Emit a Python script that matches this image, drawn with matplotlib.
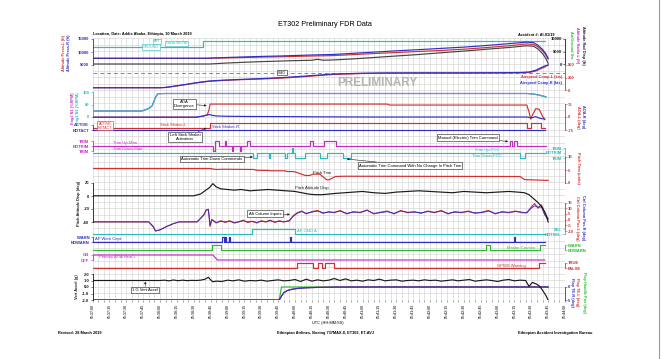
import numpy as np
import matplotlib.pyplot as plt
from matplotlib.lines import Line2D

plt.rcParams['font.family'] = ['Liberation Sans', 'DejaVu Sans']

# ---------------- data: seconds after 05:37:00 UTC ----------------
wow_t = [0, 98, 402]
wow_v = [0, 1, 1]                      # 0 = GROUND, 1 = AIR

alt_t = [0, 100, 104, 110, 120, 135, 150, 165, 180, 195, 213, 230, 250, 270, 290, 310, 331, 350, 370, 386, 392, 396, 400, 403, 405]
alt_L = [7550, 7550, 7580, 7650, 7750, 7900, 8050, 8150, 8300, 8450, 8600, 8950, 9400, 9800, 10200, 10600, 11100, 11700, 12400, 13100, 12900, 12000, 10500, 8800, 7300]
alt_R = [7600, 7600, 7650, 7750, 7900, 8100, 8300, 8450, 8650, 8850, 9050, 9450, 9950, 10450, 10900, 11400, 11900, 12500, 13200, 13800, 13600, 12600, 11000, 9300, 7600]

rad_t = [0, 104, 110, 120, 135, 150, 165, 180, 195, 200, 205, 213, 230, 250, 270, 290, 310, 331, 350, 370, 386, 392, 396, 400, 403, 405]
rad_v = [0, 0, 150, 400, 700, 950, 1150, 1350, 1500, 1900, 1500, 1600, 2000, 2600, 3200, 3800, 4500, 5200, 5900, 6600, 7300, 7100, 6000, 4200, 2200, 300]

as_t = [0, 60, 65, 75, 85, 95, 104, 115, 130, 150, 170, 190, 213, 240, 262, 300, 331, 360, 380, 388, 394, 398, 402, 405]
as_L = [45, 45, 50, 80, 115, 150, 175, 190, 205, 220, 240, 270, 310, 330, 336, 338, 338, 340, 343, 350, 380, 420, 460, 500]
as_R = [45, 45, 52, 85, 120, 155, 180, 195, 210, 228, 250, 280, 318, 336, 342, 344, 344, 346, 350, 360, 395, 440, 480, 500]
vmo_t = [0, 420]
vmo_v = [340, 340]

n1_t = [0, 44, 50, 53, 56, 58, 65, 104, 200, 300, 386, 392, 398, 403]
n1_1 = [24, 24, 35, 45, 80, 93, 94, 94, 94, 94, 94, 92, 86, 80]
n1_2 = [24, 24, 34, 44, 78, 93, 94, 94, 94, 94, 94, 92, 87, 81]

aoaL_t = [0, 92, 98, 102, 103.5, 104.5, 262, 264, 386, 388, 389.5, 391, 394, 397, 400, 402]
aoaL_v = [-1, -1, 5, 12, 40, 74.5, 74.5, 69, 69, 30, -12, 10, 48, 45, 5, -15]
aoaR_t = [0, 92, 98, 102, 104, 106, 110, 120, 140, 180, 200, 250, 300, 386, 390, 394, 398, 402]
aoaR_v = [-1, -1, 5, 12, 14, 10, 6, 4, 3, 2, 1, 0, 0, 0, -5, 2, -8, -12]

ssL_t = [0, 104, 386, 390, 399, 402]
ssL_v = [0, 1, 0, 1, 0, 0]
ssR_t = [0, 402]
ssR_v = [0, 0]

man_t = [0, 107.5, 108.5, 109, 112, 118, 119, 124, 125, 131, 132, 137, 140, 193, 196, 206, 216, 371, 373, 375, 377, 403]
man_v = [0, -1, 0, 1, 0, 1, 0, -1, 0, -1, 0, 1, 0, 1, 0, 1, 0, 1, 0, 1, 0, 0]
fcc_t = [0, 143, 146, 157, 158, 171, 173, 177, 178, 180, 189, 202, 208, 223, 230, 380, 384, 403]
fcc_v = [0, -1, 0, -1, 0, -1, 0, 1, 0, -1, 0, -1, 0, -1, 0, -1, 0, 0]

trim_t = [0, 104, 110, 116, 143, 146, 157, 158, 171, 173, 178, 180, 189, 193, 196, 202, 208, 210, 216, 223, 230, 380, 384, 405]
trim_v = [5.6, 5.6, 5.2, 5.3, 5.2, 4.9, 4.8, 4.7, 4.7, 4.4, 4.4, 4.3, 2.9, 2.9, 3.4, 3.4, 1.3, 1.2, 2.5, 2.6, 2.6, 2.5, 1.3, 1.0]

pitch_t = [0, 90, 96, 100, 104, 107, 110, 114, 120, 126, 132, 140, 148, 156, 164, 172, 180, 186, 192, 198, 204, 210, 216, 224, 232, 240, 250, 260, 270, 280, 290, 300, 310, 320, 330, 340, 350, 360, 370, 378, 384, 388, 392, 396, 400, 403, 405]
pitch_v = [0.3, 0.3, 3, 8, 13, 19, 14, 11, 10, 9, 10, 8, 9, 10, 9, 8, 7, 5, 3, 2, 2, 3, 4, 5, 6, 7, 5, 4, 6, 7, 8, 7, 6, 5, 7, 6, 5, 6, 7, 6, 5, 2, -4, -10, -18, -28, -40]

col_t = [0, 50, 54, 56, 60, 66, 72, 77, 93, 96, 99, 101, 103, 104.5, 106, 110, 114, 118, 122, 126, 130, 134, 138, 142, 146, 150, 154, 158, 162, 166, 170, 175, 178, 182, 186, 190, 195, 200, 205, 210, 215, 220, 226, 232, 238, 244, 250, 256, 262, 268, 274, 280, 286, 292, 298, 304, 310, 316, 322, 328, 334, 340, 346, 352, 358, 364, 370, 376, 382, 386, 390, 393, 396, 399, 402, 405]
col_L = [-2, -2, -6, -10, -9, -6, -3.5, -2, -2, 1, 4, 8, 9, -6, 0, -3, -1, -2.5, -1, -3, -2, -0.5, -2.5, -1.5, -3, -1, -2, -0.5, -2.5, -1, -2, -1, 3, 6, 7.5, 5, 7, 8, 5.5, 7, 6, 8, 5, 7, 6, 8.5, 5, 6.5, 7.5, 5, 8, 6, 7, 5.5, 7.5, 6, 8, 5, 7, 6, 7.5, 5.5, 6.5, 8, 5, 7, 6, 7.5, 6, 6, 11, 14, 10, 13, 5, 1]
col_R = [-2, -2, -6.5, -10, -9, -6, -3.5, -2, -2, 1, 4.5, 8.5, 9, -5, 0, -2.5, -1.5, -2, -1.5, -2.5, -2, -1, -2, -1.5, -2.5, -1.5, -2, -1, -2, -1.5, -2, -1, 2.5, 5.5, 7, 5.5, 6.5, 7.5, 6, 6.5, 6.5, 7.5, 5.5, 6.5, 6.5, 8, 5.5, 6, 7, 5.5, 7.5, 6.5, 6.5, 6, 7, 6.5, 7.5, 5.5, 6.5, 6.5, 7, 6, 6, 7.5, 5.5, 6.5, 6.5, 7, 6.5, 6, 10, 12, 11, 11, 4, 0]

apc_t = [0, 142, 180, 402]
apc_v = [0, 1, 0, 0]
apw_t = [0, 115.5, 116.5, 117.5, 118.5, 121.5, 122.5, 175.5, 176.5, 374.5, 375.5, 402]
apw_v = [0, 1, 0, 1, 0, 1, 0, 1, 0, 1, 0, 0]
mc_t = [0, 106, 114, 350, 353, 398, 402]
mc_v = [0, 1, 0, 1, 0, 1, 1]
heat_t = [0, 107, 111, 402]
heat_v = [1, 1, 0, 0]
gp_t = [0, 182, 196, 200, 204, 207, 215, 397, 402]
gp_v = [0, 1, 0, 1, 0, 1, 0, 1, 1]

va_t = [0, 60, 64, 68, 72, 76, 80, 84, 88, 92, 96, 100, 103, 105, 107, 110, 115, 120, 125, 130, 135, 140, 145, 150, 155, 160, 165, 170, 175, 180, 185, 190, 195, 200, 205, 210, 215, 220, 225, 230, 235, 240, 245, 250, 255, 260, 265, 270, 275, 280, 285, 290, 295, 300, 305, 310, 315, 320, 325, 330, 335, 340, 345, 350, 355, 360, 365, 370, 375, 380, 385, 388, 391, 394, 397, 400, 403, 405]
va_v = [1.0, 1.0, 1.05, 0.95, 1.08, 0.97, 1.05, 0.98, 1.02, 1.0, 1.05, 1.2, 1.5, 1.1, 0.8, 0.9, 0.85, 1.05, 0.95, 1.1, 0.9, 1.0, 0.95, 1.05, 0.9, 1.0, 1.1, 0.95, 1.0, 1.15, 0.85, 1.2, 0.9, 1.1, 0.95, 1.05, 1.3, 1.0, 1.25, 0.95, 1.05, 0.9, 1.1, 1.0, 1.2, 0.95, 1.05, 1.1, 0.9, 1.0, 1.05, 0.95, 1.1, 1.0, 1.05, 0.9, 1.0, 1.1, 0.95, 1.05, 1.15, 0.9, 1.0, 1.1, 1.0, 0.85, 1.05, 1.15, 0.95, 1.05, 1.0, 0.1, 0.7, 0.5, 0.2, -0.5, -1.3, -2.0]

flap_t = [0, 166, 168, 170, 173, 177, 183, 190, 200, 215, 240, 405]
flap_v = [5, 5, 3.5, 2.2, 1.4, 0.9, 0.5, 0.3, 0.15, 0.05, 0, 0]
flaph_t = [0, 166, 168, 405]
flaph_v = [5, 5, 0, 0]

time_ticks = list(range(0, 421, 15))
time_labels = [f"05:{37 + s // 60:02d}:{s % 60:02d}" for s in time_ticks]

# ---------------- layout ----------------
W, H = 664, 359
TOP, BOT, X0, X1 = 38, 300, 92.5, 565
T_END = 420
RED, BLUE, CYAN, MAG, GRN, BLK = '#d42f2f', '#2f2fc8', '#2bbcbc', '#c42bc4', '#2fb82f', '#1a1a1a'
LW = 0.85

fig = plt.figure(figsize=(W / 100, H / 100), dpi=100)
rect = [X0 / W, 1 - BOT / H, (X1 - X0) / W, (BOT - TOP) / H]
rect_in = [X1 / W, 1 - BOT / H, 1e-4, (BOT - TOP) / H]


def ptext(x, y, s, **kw):
    kw.setdefault('fontsize', 3)
    kw.setdefault('va', 'center')
    return fig.text(x / W, 1 - y / H, s, **kw)


bg = fig.add_axes(rect)
bg.set_xlim(0, T_END)
bg.set_ylim(BOT, TOP)
bg.set_xticks(time_ticks, time_labels, rotation=90, fontsize=2.5, fontweight='bold', color='#444')
bg.set_xticks(np.arange(0, T_END + 1, 5), minor=True)
bg.set_yticks(np.arange(TOP, BOT + 0.1, 6.55))
bg.tick_params(axis='x', which='both', length=1.2, width=0.4, pad=1.5, color='#555')
bg.tick_params(axis='y', left=False, labelleft=False)
bg.grid(which='both', axis='x', color='#cfcfcf', lw=0.4)
bg.grid(which='major', axis='y', color='#cfcfcf', lw=0.4)
for s in bg.spines.values():
    s.set_visible(False)


def layer(p1, v1, p2, v2, r=rect):
    ax = fig.add_axes(r)
    k = (v2 - v1) / (p2 - p1)
    ax.set_ylim(v1 + (BOT - p1) * k, v1 + (TOP - p1) * k)
    ax.set_xlim(0, T_END)
    ax.patch.set_visible(False)
    for s in ax.spines.values():
        s.set_visible(False)
    ax.tick_params(bottom=False, labelbottom=False, left=False, labelleft=False)
    ax.set_yticks([])
    return ax


def yticks(ax, side, vals, labels, color):
    ax.yaxis.set_ticks_position(side)
    ax.set_yticks(vals, labels)
    on = side == 'left'
    ax.tick_params(axis='y', colors=color, labelsize=3, length=1.5, width=0.4, pad=0.8,
                   left=on, labelleft=on, right=not on, labelright=not on)
    for lab in ax.get_yticklabels():
        lab.set_fontweight('bold')
    sp = ax.spines[side]
    sp.set_visible(True)
    sp.set_bounds(min(vals), max(vals))
    sp.set_color(color)
    sp.set_linewidth(0.6)


# altitude / airspeed
ax_wow = layer(41.3, 1, 46.7, 0)
ax_wow.plot(wow_t, wow_v, color=CYAN, lw=LW, drawstyle='steps-post')

ax_alt = layer(39, 15000, 65, 5000)
ax_alt.plot(alt_t, alt_L, color=RED, lw=LW)
ax_alt.plot(alt_t, alt_R, color=BLUE, lw=LW)
yticks(ax_alt, 'left', [5000, 10000, 15000], ['5000', '10000', '15000'], BLUE)

ax_rad = layer(39, 10000, 64, 0)
ax_rad.plot(rad_t, rad_v, color='#444444', lw=LW)
ax_radl = layer(39, 10000, 64, 0, rect_in)
yticks(ax_radl, 'left', [0, 5000, 10000], ['0', '5000', '10000'], BLK)

ax_as = layer(65, 500, 90, 0)
ax_as.plot(vmo_t, vmo_v, color='#888888', lw=0.7, ls=(0, (4, 3)))
ax_as.plot(as_t, as_L, color=RED, lw=LW)
ax_as.plot(as_t, as_R, color=BLUE, lw=LW)
yticks(ax_as, 'right', [0, 250, 500], ['0', '250', '500'], RED)

# N1 / AOA
ax_n1 = layer(92, 100, 117, 0)
ax_n1.plot(n1_t, n1_2, color=MAG, lw=LW)
ax_n1.plot(n1_t, n1_1, color=CYAN, lw=LW)
yticks(ax_n1, 'left', [0, 50, 100], ['0', '50', '100'], CYAN)

ax_aoa = layer(104, 75, 130, -75)
ax_aoa.plot(aoaL_t, aoaL_v, color=RED, lw=LW)
ax_aoa.plot(aoaR_t, aoaR_v, color=BLUE, lw=LW)
yticks(ax_aoa, 'right', [-75, 0, 75], ['-75', '0', '75'], RED)

# stick shaker
ax_ssL = layer(122.5, 1, 128, 0)
ax_ssL.plot(ssL_t, ssL_v, color=RED, lw=LW, drawstyle='steps-post')
ax_ssR = layer(124.5, 1, 130, 0)
ax_ssR.plot(ssR_t, ssR_v, color=BLUE, lw=LW, drawstyle='steps-post')
yticks(ax_ssR, 'left', [0, 1], ['NOTACT', 'ACTIVE'], BLUE)

# trim commands
ax_man = layer(141, 1, 146, 0)
ax_man.plot(man_t, man_v, color=MAG, lw=LW, drawstyle='steps-post')
yticks(ax_man, 'left', [-1, 0, 1], ['TRIM', 'NOTRIM', 'TRIM'], MAG)

ax_fcc = layer(148, 1, 153, 0)
ax_fcc.plot(fcc_t, fcc_v, color=CYAN, lw=LW, drawstyle='steps-post')
ax_fccl = layer(148, 1, 153, 0, rect_in)
yticks(ax_fccl, 'left', [-1, 0, 1], ['TRIM', 'NOTRIM', 'TRIM'], CYAN)

ax_trim = layer(157, 10, 183, 0)
ax_trim.plot(trim_t, trim_v, color=RED, lw=LW)
yticks(ax_trim, 'right', [0, 5, 10], ['0', '5', '10'], RED)

# pitch / column
ax_col = layer(202.5, 15, 231, -10)
ax_col.plot(col_t, col_L, color=RED, lw=LW)
ax_col.plot(col_t, col_R, color=BLUE, lw=0.6)
yticks(ax_col, 'right', [-10, -5, 0, 5, 10, 15], ['-10', '-5', '0', '5', '10', '15'], RED)

ax_pitch = layer(183, 20, 222, -40)
ax_pitch.plot(pitch_t, pitch_v, color=BLK, lw=LW)
yticks(ax_pitch, 'left', [-40, -20, 0, 20], ['-40', '-20', '0', '20'], BLK)

# discretes
ax_apc = layer(229, 1, 234, 0)
ax_apc.plot(apc_t, apc_v, color=CYAN, lw=LW, drawstyle='steps-post')
ax_apcl = layer(229, 1, 234, 0, rect_in)
yticks(ax_apcl, 'left', [0, 1], ['NOTSEL', 'SEL'], CYAN)

ax_apw = layer(237, 1, 242, 0)
ax_apw.plot(apw_t, apw_v, color=BLUE, lw=LW, drawstyle='steps-post')
yticks(ax_apw, 'left', [0, 1], ['NOWARN', 'WARN'], BLUE)

ax_mc = layer(245, 1, 250, 0)
ax_mc.plot(mc_t, mc_v, color=GRN, lw=LW, drawstyle='steps-post')
yticks(ax_mc, 'right', [0, 1], ['NOWARN', 'WARN'], GRN)

ax_heat = layer(255, 1, 260, 0)
ax_heat.plot(heat_t, heat_v, color=MAG, lw=LW)
yticks(ax_heat, 'left', [0, 1], ['OFF', 'ON'], MAG)

ax_gp = layer(263, 1, 268, 0)
ax_gp.plot(gp_t, gp_v, color=RED, lw=LW, drawstyle='steps-post')
yticks(ax_gp, 'right', [0, 1], ['FALSE', 'TRUE'], RED)

# vertical accel / flaps
ax_flap = layer(287, 0, 300, 5)
ax_flap.plot(flaph_t, flaph_v, color=GRN, lw=LW)
ax_flap.plot(flap_t, flap_v, color=RED, lw=LW)
ax_flap.plot(flap_t, flap_v, color=BLUE, lw=LW)
yticks(ax_flap, 'right', [0, 5], ['0', '5'], BLUE)

ax_va = layer(274, 2, 300, -2)
ax_va.plot(va_t, va_v, color=BLK, lw=LW)
yticks(ax_va, 'left', [-2, -1, 0, 1, 2], ['-2.0', '-1.0', '0.0', '1.0', '2.0'], BLK)

# ---------------- annotations ----------------
bb = dict(boxstyle='square,pad=0.3', fc='white', ec=BLK, lw=0.4)
arr = dict(arrowstyle='-|>', lw=0.4, color=BLK, mutation_scale=3, shrinkA=0, shrinkB=0)


def note(ax, txt, xy, pos):
    ax.annotate(txt, xy=xy, xytext=(pos[0], H - pos[1]), textcoords='figure pixels',
                fontsize=3, ha='center', va='center', bbox=bb, arrowprops=arr,
                linespacing=1.0, annotation_clip=False)


note(ax_aoa, 'AOA\nDivergence', (101.5, 66), (184.5, 104))
note(ax_ssL, 'Left Stick Shaker\nActivation', (101.5, 0), (185, 137))
note(ax_fcc, 'Automatic Trim Down Commands', (142.5, -0.8), (212, 159))
note(ax_man, 'Manual (Electric) Trim Command', (369.5, 0.9), (468, 137.5))
note(ax_fcc, 'Automatic Trim Command With No Change In Pitch Trim', (226, -1.2), (410, 165.5))
note(ax_col, 'Aft Column Inputs', (175.5, 4.5), (265, 213.5))
note(ax_va, '1 G Vert Accel', (47, 0.85), (145, 290))

# ---------------- text ----------------
ptext(325, 24, 'ET302 Preliminary FDR Data', fontsize=5.2, ha='center')
ptext(93, 34.5, 'Location, Date: Addis Ababa, Ethiopia, 10 March 2019', fontsize=2.8, fontweight='bold')
ptext(555, 34.5, 'Accident #: AI-01/19', fontsize=2.8, fontweight='bold', ha='right')
ptext(377, 83, 'PRELIMINARY', fontsize=8.5, fontweight='bold', color='#b5b5b5', ha='center')

cb = dict(boxstyle='square,pad=0.2', fc='white', ec=CYAN, lw=0.4)
ptext(157, 41.3, 'AIR', color=CYAN, fontsize=2.6, ha='center', bbox=cb)
ptext(151, 47, 'GROUND', color=CYAN, fontsize=2.6, ha='center', bbox=cb)
ptext(166, 43.5, 'Gear WOW', color=CYAN, fontsize=3, bbox=cb)
ptext(282, 72.5, 'VMO', fontsize=2.6, ha='center', bbox=dict(boxstyle='square,pad=0.2', fc='white', ec=BLK, lw=0.4))
ptext(562, 77, 'Airspeed Comp-L (kts)', color=RED, fontsize=2.8, fontweight='bold', ha='right')
ptext(562, 83, 'Airspeed Comp-R (kts)', color=BLUE, fontsize=2.8, fontweight='bold', ha='right')
ptext(105, 125.5, 'ACTIVE\nNOTACT', color=RED, fontsize=2.6, ha='center', linespacing=1.0,
      bbox=dict(boxstyle='square,pad=0.2', fc='white', ec=RED, lw=0.4))
ptext(160, 125, 'Stick Shaker-L', color=RED, fontsize=3)
ptext(212, 127.5, 'Stick Shaker-R', color=BLUE, fontsize=3)
ptext(113, 143, 'Trim Up-Man', color=MAG, fontsize=3)
ptext(113, 149, 'Trim Down-Man', color=MAG, fontsize=3)
ptext(475, 150, 'Trim Up-FCC', color=CYAN, fontsize=3)
ptext(472, 156, 'Trim Down-FCC', color=CYAN, fontsize=3)
ptext(313, 172.5, 'Pitch Trim', color=BLK, fontsize=3)
ptext(295, 187.5, 'Pitch Attitude Disp', color=BLK, fontsize=3)
ptext(297, 231, 'AP CMD A', color=CYAN, fontsize=3)
ptext(95, 239, 'AP Warn Capt', color=BLUE, fontsize=3)
ptext(507, 248, 'Master Caution', color=GRN, fontsize=3)
ptext(99, 257, 'Primary AOA Heat L', color=MAG, fontsize=3)
ptext(497, 266, 'GPWS Warning', color=RED, fontsize=3)

# axis titles (rotated)
left_titles = [(64, 53, 'Altitude Press-L (ft)', RED), (69, 53, 'Altitude Press-R (ft)', BLUE),
               (73, 108, 'Eng2 N1 (%RPM)', MAG), (78, 108, 'Eng1 N1 (%RPM)', CYAN),
               (79, 203, 'Pitch Attitude Disp (deg)', BLK), (77, 287, 'Vert Accel (g)', BLK)]
for x, y, s, c in left_titles:
    ptext(x, y, s, color=c, fontsize=2.8, fontweight='bold', rotation=90, ha='center')

right_titles = [(571, 45, 'Air/Ground Sw', GRN), (577, 45, 'Altitude Radio-L (ft)', MAG),
                (583, 45, 'Altitude Rad Disp (ft)', BLK),
                (578, 117, 'AOA-L (deg)', RED), (583, 117, 'AOA-R (deg)', BLUE),
                (578, 168, 'Pitch Trim (units)', RED),
                (577, 218, 'Ctrl Column Pos-L (deg)', RED), (583, 218, 'Ctrl Column Pos-R (deg)', BLUE),
                (572, 292, 'Flap TE-R (deg)', BLUE), (577, 292, 'Flap TE-L (deg)', RED),
                (584, 292, 'Flap Handle Pos (deg)', GRN)]
for x, y, s, c in right_titles:
    ptext(x, y, s, color=c, fontsize=2.8, fontweight='bold', rotation=270, ha='center')

ptext(328, 323, 'UTC (HH:MM:SS)', fontsize=2.8, ha='center')
ptext(58, 333, 'Revised: 28 March 2019', fontsize=2.8, fontweight='bold')
ptext(326, 333, 'Ethiopian Airlines, Boeing 737MAX-8, ET302, ET-AVJ', fontsize=2.8, fontweight='bold', ha='center')
ptext(555, 333, 'Ethiopian Accident Investigation Bureau', fontsize=2.8, fontweight='bold', ha='center')

fig.add_artist(Line2D([659 / W, 659 / W], [0, 1], color='#9a9a9a', lw=0.8))

fig.savefig('out.png', dpi=100)
